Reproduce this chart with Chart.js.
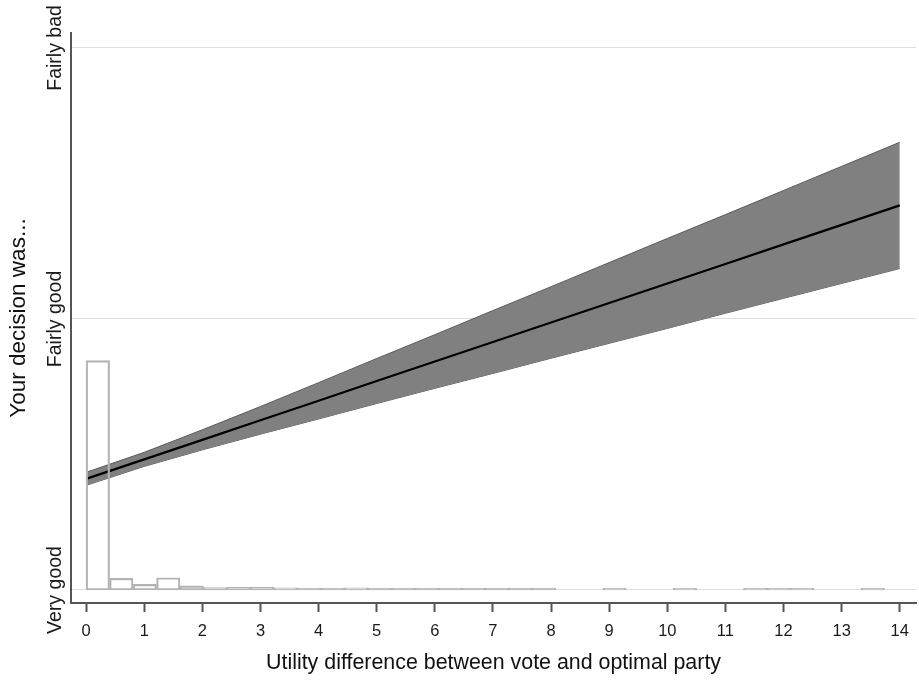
<!DOCTYPE html>
<html>
<head>
<meta charset="utf-8">
<script src="https://cdn.jsdelivr.net/npm/chart.js@4/dist/chart.umd.min.js"></script>
<style>
  html, body { margin: 0; padding: 0; background: #fff; }
  #wrap { width: 919px; height: 680px; }
</style>
</head>
<body>
<div id="wrap"><canvas id="myChart" width="919" height="680"></canvas></div>
<script>
// x ticks and y category labels
const xTicks = [0, 1, 2, 3, 4, 5, 6, 7, 8, 9, 10, 11, 12, 13, 14];
const yTickValues = [1, 2, 3];
const yTickLabels = ['Very good', 'Fairly good', 'Fairly bad'];

// fitted line and its confidence band
const fitX = [0, 1, 2, 3, 4, 5, 6, 7, 8, 9, 10, 11, 12, 13, 14];
const fitY = [1.410, 1.482, 1.554, 1.626, 1.698, 1.771, 1.843, 1.915, 1.987, 2.059, 2.131, 2.203, 2.275, 2.347, 2.419];
const ciUpper = [1.434, 1.508, 1.591, 1.677, 1.765, 1.854, 1.942, 2.031, 2.119, 2.208, 2.297, 2.385, 2.474, 2.563, 2.652];
const ciLower = [1.386, 1.456, 1.517, 1.575, 1.631, 1.688, 1.744, 1.799, 1.855, 1.910, 1.965, 2.021, 2.076, 2.131, 2.186];

// histogram of utility difference (drawn on top of the "Very good" line)
const binWidth = 0.404;
const binLeft = [0, 0.404, 0.808, 1.212, 1.616, 2.02, 2.424, 2.828, 3.232, 3.636, 4.04, 4.444, 4.848,
                 5.252, 5.656, 6.06, 6.464, 6.868, 7.272, 7.676, 8.888, 10.1, 11.312, 11.716, 12.12, 13.332];
const binHeight = [0.846, 0.043, 0.021, 0.045, 0.015, 0.009, 0.011, 0.011, 0.008, 0.007, 0.007, 0.008, 0.007,
                   0.007, 0.007, 0.007, 0.007, 0.007, 0.007, 0.007, 0.006, 0.006, 0.006, 0.006, 0.006, 0.006];

const FONT = '"Liberation Sans", Arial, Helvetica, sans-serif';

const yLabelPlugin = {
    id: 'yLabels',
    afterDraw(chart) {
        const ctx = chart.ctx;
        const ys = chart.scales.y;
        ctx.save();
        ctx.font = '19.5px ' + FONT;
        ctx.fillStyle = '#1a1a1a';
        ctx.textAlign = 'center';
        ctx.textBaseline = 'middle';
        for (let i = 0; i < yTickValues.length; i++) {
            ctx.save();
            ctx.translate(chart.chartArea.left - 15, ys.getPixelForValue(yTickValues[i]));
            ctx.rotate(-Math.PI / 2);
            ctx.fillText(yTickLabels[i], 0, 0);
            ctx.restore();
        }
        ctx.restore();
    }
};

function graficoUtilidad() {
    const bars = binLeft.map((l, i) => ({ x: l + binWidth / 2, y: [1, 1 + binHeight[i]] }));
    const pts = arr => fitX.map((x, i) => ({ x: x, y: arr[i] }));

    const data = {
        datasets: [
            {
                type: 'bar',
                label: 'Histogram',
                data: bars,
                backgroundColor: 'rgba(255,255,255,0)',
                borderColor: '#b4b4b4',
                borderWidth: 1.5,
                borderSkipped: false,
                barPercentage: 1,
                categoryPercentage: 1,
                order: 0
            },
            {
                type: 'line',
                label: 'Fit',
                data: pts(fitY),
                borderColor: '#000',
                borderWidth: 2.2,
                pointRadius: 0,
                tension: 0,
                fill: false,
                order: 1
            },
            {
                type: 'line',
                label: 'Upper',
                data: pts(ciUpper),
                borderColor: '#5c5c5c',
                borderWidth: 1,
                pointRadius: 0,
                tension: 0,
                fill: '+1',
                backgroundColor: '#808080',
                order: 2
            },
            {
                type: 'line',
                label: 'Lower',
                data: pts(ciLower),
                borderColor: '#5c5c5c',
                borderWidth: 1,
                pointRadius: 0,
                tension: 0,
                fill: false,
                order: 3
            }
        ]
    };

    const config = {
        type: 'line',
        data: data,
        plugins: [yLabelPlugin],
        options: {
            responsive: false,
            animation: false,
            layout: { padding: { top: 33, right: 2, left: 0, bottom: 0 } },
            plugins: { legend: { display: false }, tooltip: { enabled: false } },
            scales: {
                x: {
                    type: 'linear',
                    min: -0.26,
                    max: 14.28,
                    offset: false,
                    afterBuildTicks: s => { s.ticks = xTicks.map(v => ({ value: v })); },
                    afterFit: s => { s.height = 77; },
                    border: { color: '#555', width: 2 },
                    grid: { offset: false, drawOnChartArea: false, drawTicks: true, tickLength: 9, tickWidth: 2, tickColor: '#555' },
                    ticks: { color: '#1a1a1a', padding: 10, maxRotation: 0, font: { family: FONT, size: 16.5 } },
                    title: {
                        display: true,
                        text: 'Utility difference between vote and optimal party',
                        color: '#111',
                        font: { family: FONT, size: 21.4 },
                        padding: { top: 0, bottom: 4 }
                    }
                },
                y: {
                    min: 0.952,
                    max: 3.055,
                    afterBuildTicks: s => { s.ticks = yTickValues.map(v => ({ value: v })); },
                    afterFit: s => { s.width = 71; },
                    border: { color: '#555', width: 2 },
                    grid: { color: '#dedede', lineWidth: 1, drawTicks: false },
                    ticks: { display: false },
                    title: {
                        display: true,
                        text: 'Your decision was...',
                        color: '#111',
                        font: { family: FONT, size: 22.5 },
                        padding: { top: 5, bottom: 0 }
                    }
                }
            }
        }
    };

    const myChart = new Chart(document.getElementById('myChart'), config);
}

window.onload = (event) => {
    graficoUtilidad();
};
</script>
</body>
</html>
